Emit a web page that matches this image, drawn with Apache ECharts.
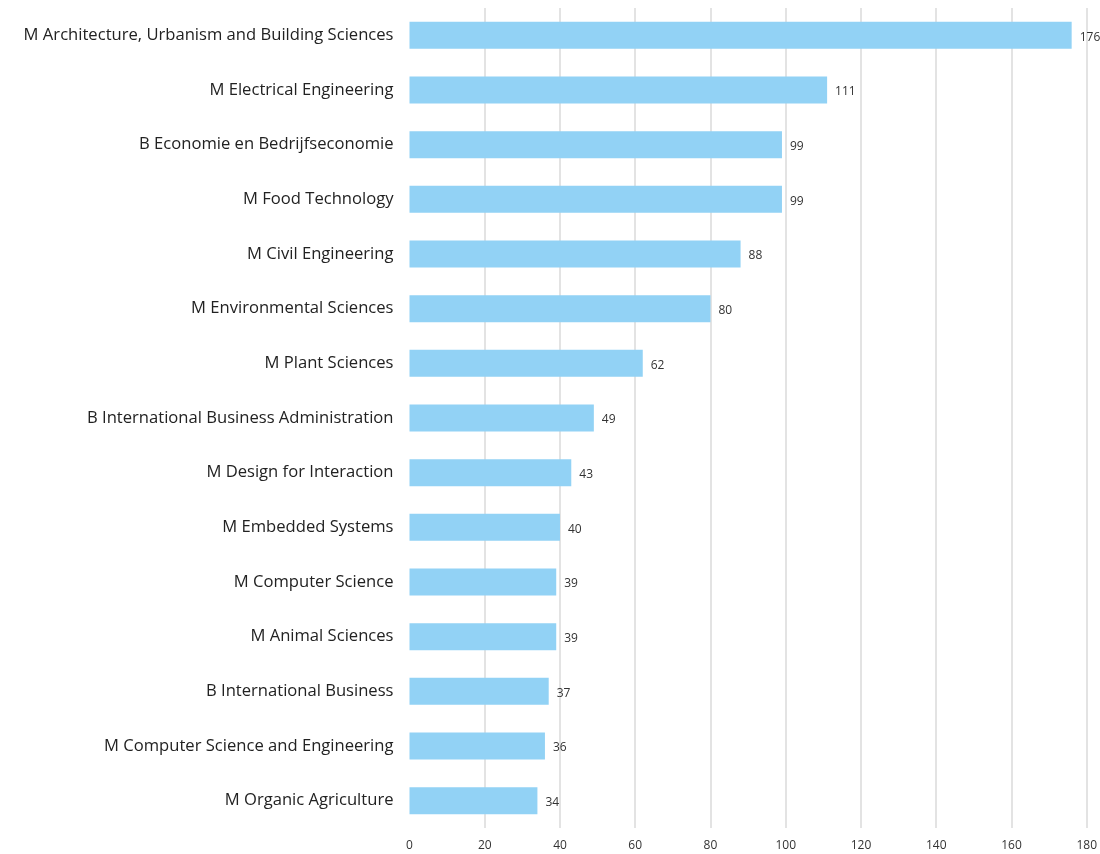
<!DOCTYPE html>
<html><head><meta charset="utf-8">
<script src="https://cdn.jsdelivr.net/npm/echarts@6/dist/echarts.min.js"></script>
<style>html,body{margin:0;padding:0;background:#fff}#c{width:1100px;height:854px}</style>
</head><body><div id="c"></div>
<script>
const categories = [
  "M Architecture, Urbanism and Building Sciences",
  "M Electrical Engineering",
  "B Economie en Bedrijfseconomie",
  "M Food Technology",
  "M Civil Engineering",
  "M Environmental Sciences",
  "M Plant Sciences",
  "B International Business Administration",
  "M Design for Interaction",
  "M Embedded Systems",
  "M Computer Science",
  "M Animal Sciences",
  "B International Business",
  "M Computer Science and Engineering",
  "M Organic Agriculture"
];
const values = [176, 111, 99, 99, 88, 80, 62, 49, 43, 40, 39, 39, 37, 36, 34];
const xTicks = [0, 20, 40, 60, 80, 100, 120, 140, 160, 180];

const chart = echarts.init(document.getElementById('c'));
chart.setOption({
  animation: false,
  grid: { left: 409.5, right: 12, top: 8, bottom: 26, containLabel: false },
  xAxis: {
    type: 'value', min: xTicks[0], max: xTicks[xTicks.length-1], interval: 20,
    axisLine: { show: false }, axisTick: { show: false },
    splitLine: { show: true, showMinLine: false, lineStyle: { color: '#e3e3e3', width: 2 } },
    axisLabel: { color: '#333', fontSize: 12, fontFamily: 'Open Sans', margin: 12 }
  },
  yAxis: {
    type: 'category', data: categories, inverse: true,
    axisLine: { show: false }, axisTick: { show: false },
    axisLabel: { color: '#222', fontSize: 16.6, fontFamily: 'Open Sans', margin: 16 }
  },
  series: [{
    type: 'bar', data: values, barWidth: 27,
    itemStyle: { color: '#92d2f5' },
    label: { show: true, position: 'right', distance: 8, color: '#333', fontSize: 12, fontFamily: 'Open Sans', offset: [0, 2] }
  }]
});
</script></body></html>
